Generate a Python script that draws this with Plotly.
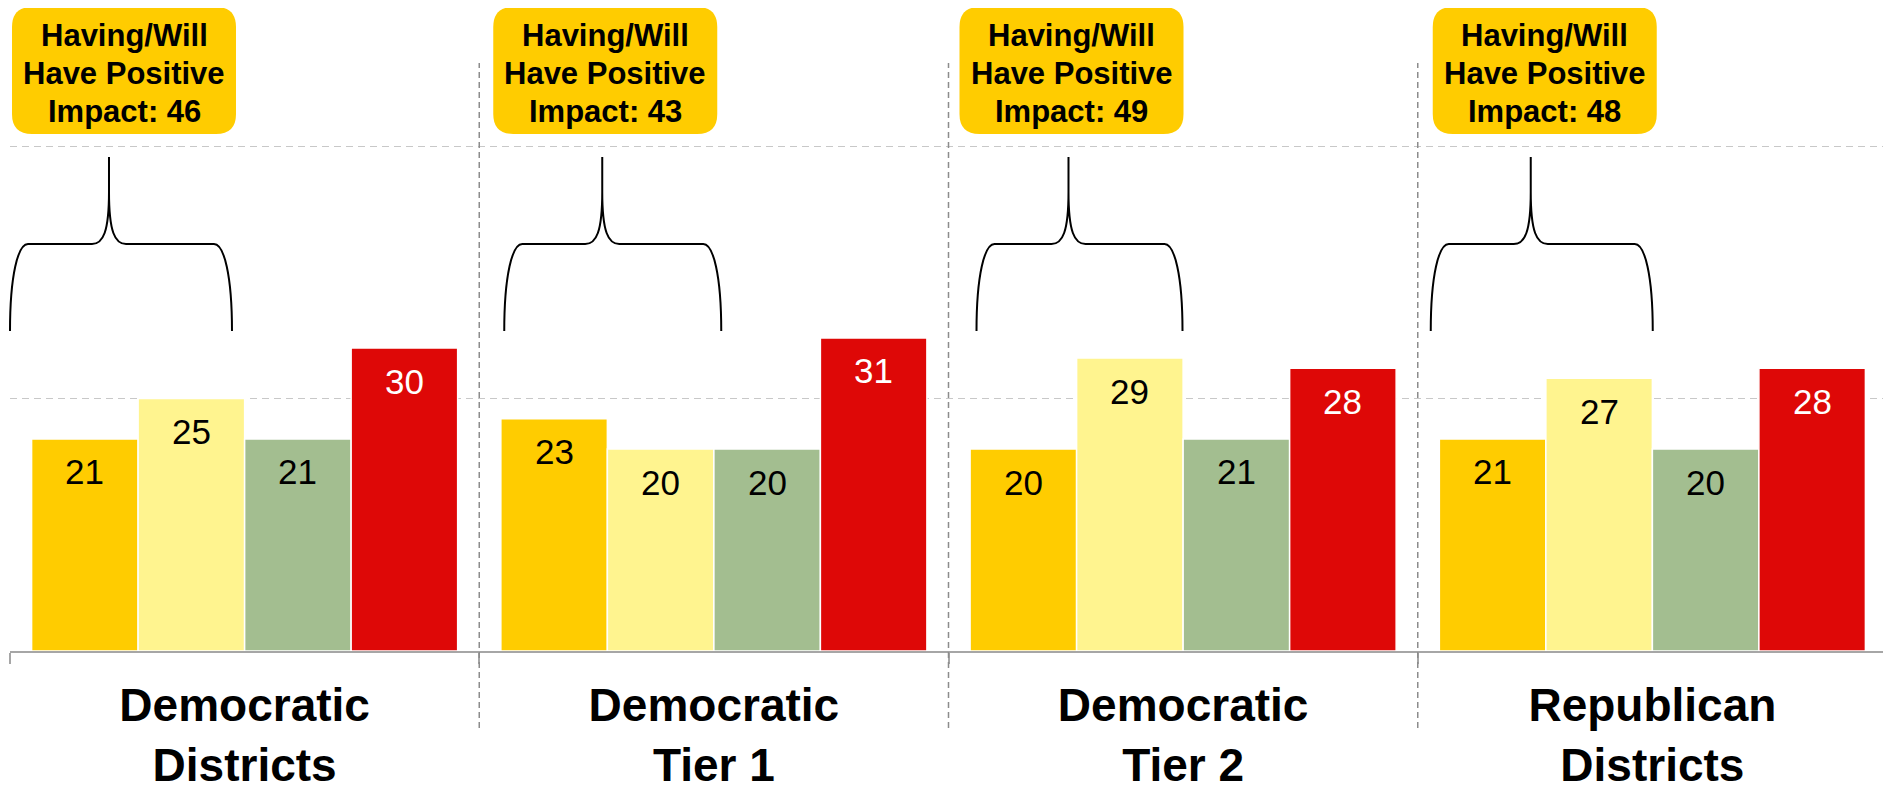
import plotly.graph_objects as go

# ---------------- data ----------------
categories = ["Democratic<br>Districts", "Democratic<br>Tier 1", "Democratic<br>Tier 2", "Republican<br>Districts"]
series_names = ["Having positive impact", "Will have positive impact", "No impact", "Negative impact"]
having_vals = [21, 23, 20, 21]
will_have_vals = [25, 20, 29, 27]
no_impact_vals = [21, 20, 21, 20]
negative_vals = [30, 31, 28, 28]
series_values = [having_vals, will_have_vals, no_impact_vals, negative_vals]
box_lines = ["Having/Will", "Have Positive", "Impact: "]

# ---------------- styles ----------------
colors = ["#FFCC00", "#FFF48F", "#A3BE90", "#DE0807"]
label_colors = ["black", "black", "black", "white"]
FONT = "Arial, 'Liberation Sans', sans-serif"
PAGE_OFF = 8  # default body margin of the html page
W, H = 1891 - PAGE_OFF, 788 - PAGE_OFF
ML, MR, MT, MB = 10 - PAGE_OFF, 4, 45 - PAGE_OFF, 137
BARGAP = 0.092
YMAX = 60

plot_w = W - ML - MR
plot_h = H - MT - MB
PLOT_LEFT = ML + PAGE_OFF          # in screen pixels
PLOT_BOTTOM = H - MB + PAGE_OFF    # in screen pixels
x_idx = list(range(len(categories)))

def px_to_paper_x(px):
    return (px - PLOT_LEFT) / plot_w

def py_to_paper_y(py):
    return (PLOT_BOTTOM - py) / plot_h

def datax_to_px(x):
    return PLOT_LEFT + (x + 0.5) / len(categories) * plot_w

fig = go.Figure()
for name, vals, col in zip(series_names, series_values, colors):
    fig.add_trace(go.Bar(x=x_idx, y=vals, name=name, marker=dict(color=col, line=dict(color="white", width=1.5)),
                         hoverinfo="y+name"))

# data labels inside bars
bw = (1 - BARGAP) / len(series_values)
annotations = []
for i, (vals, lc) in enumerate(zip(series_values, label_colors)):
    for c, v in zip(x_idx, vals):
        annotations.append(dict(x=c + (i - 1.5) * bw, y=v, xref="x", yref="y", text=str(v), showarrow=False,
                                yanchor="middle", yshift=-33, font=dict(family=FONT, size=35, color=lc)))

def to_path(pts):
    return " ".join(cmd + " " + " ".join(f"{px_to_paper_x(a):.5f},{py_to_paper_y(b):.5f}" for a, b in ps)
                    for cmd, ps in pts)

shapes = []
# brace and box placement offsets (pixels relative to category left edge)
brace_rel = [(0, 99, 222), (25, 123, 242), (28, 120, 234), (13, 113, 235)]
box_rel = [114, 126, 123, 127]
line_centers = [35.5, 73.5, 111.5]
for c in x_idx:
    left_px = datax_to_px(c - 0.5)
    L, P, R = (left_px + r for r in brace_rel[c])
    yb, ym, yt = 331, 244, 157
    pts = [
        ("M", [(L, yb)]),
        ("C", [(L, 275), (L + 8, ym), (L + 18, ym)]),
        ("L", [(P - 17, ym)]),
        ("C", [(P - 6, ym), (P, 232), (P, 192)]),
        ("L", [(P, yt)]),
        ("L", [(P, 192)]),
        ("C", [(P, 232), (P + 6, ym), (P + 17, ym)]),
        ("L", [(R - 18, ym)]),
        ("C", [(R - 8, ym), (R, 275), (R, yb)]),
    ]
    shapes.append(dict(type="path", path=to_path(pts), xref="paper", yref="paper",
                       line=dict(color="black", width=2)))

    # rounded box
    cx = left_px + box_rel[c]
    bx0, bx1, by0, by1, r = cx - 112, cx + 112, 7, 134, 20
    rp = [
        ("M", [(bx0 + r, by0)]), ("L", [(bx1 - r, by0)]), ("Q", [(bx1, by0), (bx1, by0 + r)]),
        ("L", [(bx1, by1 - r)]), ("Q", [(bx1, by1), (bx1 - r, by1)]), ("L", [(bx0 + r, by1)]),
        ("Q", [(bx0, by1), (bx0, by1 - r)]), ("L", [(bx0, by0 + r)]), ("Q", [(bx0, by0), (bx0 + r, by0)]),
    ]
    shapes.append(dict(type="path", path=to_path(rp) + " Z", xref="paper", yref="paper", fillcolor="#FFCC00",
                       line=dict(width=0), layer="above"))
    total = having_vals[c] + will_have_vals[c]
    texts = box_lines[:2] + [box_lines[2] + str(total)]
    for t, yc in zip(texts, line_centers):
        annotations.append(dict(x=px_to_paper_x(cx), y=py_to_paper_y(yc), xref="paper", yref="paper",
                                text=t, showarrow=False, xanchor="center", yanchor="middle",
                                font=dict(family=FONT, size=31, color="black", weight="bold")))

# vertical dashed dividers between categories
for c in x_idx[1:]:
    xp = c / len(categories)
    shapes.append(dict(type="line", xref="paper", yref="paper", x0=xp, x1=xp,
                       y0=py_to_paper_y(728), y1=py_to_paper_y(63),
                       line=dict(color="#8C8C8C", width=1.5, dash="6px,4px")))

fig.update_layout(
    width=W, height=H,
    margin=dict(l=ML, r=MR, t=MT, b=MB, autoexpand=False),
    barmode="group", bargap=BARGAP, bargroupgap=0,
    plot_bgcolor="white", paper_bgcolor="white",
    showlegend=False,
    font=dict(family=FONT),
    annotations=annotations,
    shapes=shapes,
    xaxis=dict(range=[-0.5, 3.5], tickmode="array", tickvals=x_idx, ticktext=categories, ticks="",
               tickfont=dict(family=FONT, size=46, color="black", weight="bold"),
               showline=True, linecolor="#A6A6A6", linewidth=2, showgrid=False, zeroline=False,
               ticklabelstandoff=13, automargin=False,
               minor=dict(tickmode="array", tickvals=[c - 0.5 for c in x_idx] + [x_idx[-1] + 0.5],
                          ticks="outside", ticklen=11, tickcolor="#A6A6A6", tickwidth=2, showgrid=False)),
    yaxis=dict(range=[0, YMAX], tickmode="array", tickvals=[25, 50], showticklabels=False,
               showgrid=True, gridcolor="#C8C8C8", gridwidth=1, griddash="7px,5px",
               zeroline=False, showline=False, automargin=False),
)

fig.write_html("out.html")
